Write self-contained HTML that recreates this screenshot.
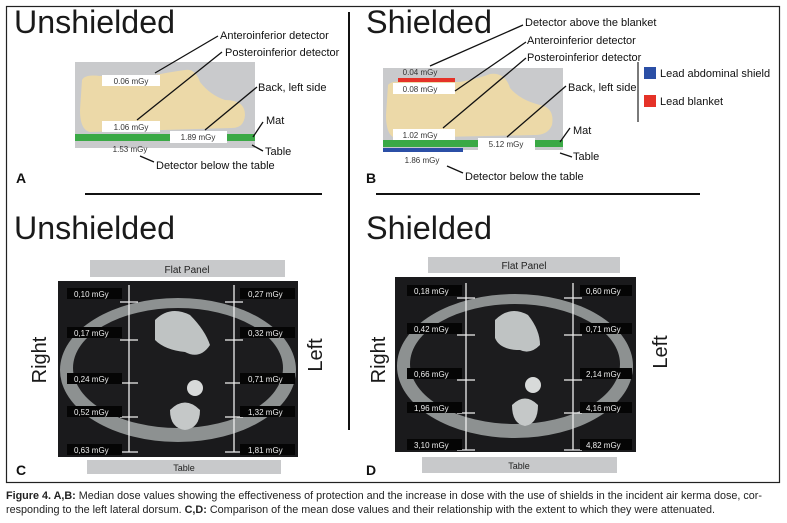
<!DOCTYPE html>
<html><head><meta charset="utf-8"><style>
html,body{margin:0;padding:0;background:#fff;}
svg{display:block;font-family:"Liberation Sans",sans-serif;}
</style></head><body>
<svg width="787" height="523" viewBox="0 0 787 523" xmlns="http://www.w3.org/2000/svg">
<rect x="0" y="0" width="787" height="523" fill="#fff"/>
<rect x="6.5" y="6.5" width="773" height="476" fill="none" stroke="#222" stroke-width="1.2"/>
<line x1="349" y1="12" x2="349" y2="430" stroke="#111" stroke-width="2"/>
<line x1="85" y1="194" x2="322" y2="194" stroke="#111" stroke-width="2"/>
<line x1="376" y1="194" x2="700" y2="194" stroke="#111" stroke-width="2"/>

<!-- Panel A -->
<text x="14" y="33" font-size="32" fill="#1a1a1a" textLength="161" lengthAdjust="spacingAndGlyphs">Unshielded</text>
<rect x="75" y="62" width="180" height="86" fill="#c9cacc"/>
<path d="M82,80 Q85,74 100,76 L150,76 Q170,72 185,70 Q195,68 200,82 Q210,95 225,100 Q245,100 245,115 Q244,128 232,128 L90,132 Q80,130 80,110 Z" fill="#ecd9a8"/>
<rect x="75" y="134" width="180" height="7" fill="#3aa945"/>
<rect x="102" y="75" width="58" height="11" fill="#fff"/>
<text x="131" y="84" font-size="8" fill="#333" text-anchor="middle">0.06 mGy</text>
<rect x="102" y="121" width="58" height="11" fill="#fff"/>
<text x="131" y="130" font-size="8" fill="#333" text-anchor="middle">1.06 mGy</text>
<rect x="170" y="131" width="57" height="12" fill="#fff"/>
<text x="198" y="140" font-size="8" fill="#333" text-anchor="middle">1.89 mGy</text>
<text x="130" y="152" font-size="8" fill="#333" text-anchor="middle">1.53 mGy</text>
<g stroke="#111" stroke-width="1.3">
<line x1="155" y1="73" x2="218" y2="36"/><line x1="137" y1="120" x2="222" y2="52"/>
<line x1="205" y1="130" x2="257" y2="87"/><line x1="253" y1="137" x2="263" y2="122"/>
<line x1="252" y1="145" x2="263" y2="151"/><line x1="140" y1="156" x2="154" y2="162"/>
</g>
<g font-size="11" fill="#111">
<text x="220" y="39">Anteroinferior detector</text>
<text x="225" y="56">Posteroinferior detector</text>
<text x="258" y="91">Back, left side</text>
<text x="266" y="124">Mat</text>
<text x="265" y="155">Table</text>
<text x="156" y="169">Detector below the table</text>
</g>
<text x="16" y="183" font-size="14" font-weight="bold" fill="#111">A</text>

<!-- Panel B -->
<text x="366" y="33" font-size="32" fill="#1a1a1a" textLength="126" lengthAdjust="spacingAndGlyphs">Shielded</text>
<rect x="383" y="68" width="180" height="82" fill="#c9cacc"/>
<path d="M388,85 Q392,80 410,82 L460,82 Q480,78 490,74 Q505,72 510,88 Q520,100 540,105 Q555,108 552,125 Q548,135 535,135 L395,138 Q386,135 386,115 Z" fill="#ecd9a8"/>
<rect x="398" y="78" width="57" height="4" fill="#e53228"/>
<text x="420" y="75" font-size="8" fill="#333" text-anchor="middle">0.04 mGy</text>
<rect x="393" y="83" width="62" height="11" fill="#fff"/>
<text x="420" y="92" font-size="8" fill="#333" text-anchor="middle">0.08 mGy</text>
<rect x="393" y="129" width="62" height="11" fill="#fff"/>
<text x="420" y="138" font-size="8" fill="#333" text-anchor="middle">1.02 mGy</text>
<rect x="383" y="140" width="180" height="7" fill="#3aa945"/>
<rect x="478" y="138" width="57" height="12" fill="#fff"/>
<text x="506" y="147" font-size="8" fill="#333" text-anchor="middle">5.12 mGy</text>
<rect x="383" y="148" width="80" height="4" fill="#2b4fa6"/>
<text x="422" y="163" font-size="8" fill="#333" text-anchor="middle">1.86 mGy</text>
<g stroke="#111" stroke-width="1.3">
<line x1="430" y1="66" x2="523" y2="25"/><line x1="455" y1="91" x2="526" y2="42"/>
<line x1="443" y1="128" x2="526" y2="58"/><line x1="507" y1="137" x2="566" y2="86"/>
<line x1="560" y1="142" x2="570" y2="128"/><line x1="560" y1="153" x2="572" y2="157"/>
<line x1="447" y1="166" x2="463" y2="173"/>
</g>
<g font-size="11" fill="#111">
<text x="525" y="26">Detector above the blanket</text>
<text x="527" y="44">Anteroinferior detector</text>
<text x="527" y="61">Posteroinferior detector</text>
<text x="568" y="91">Back, left side</text>
<text x="573" y="134">Mat</text>
<text x="573" y="160">Table</text>
<text x="465" y="180">Detector below the table</text>
</g>
<line x1="638" y1="62" x2="638" y2="122" stroke="#333" stroke-width="1.3"/>
<rect x="644" y="67" width="12" height="12" fill="#2b4fa6"/>
<text x="660" y="77" font-size="11" fill="#111">Lead abdominal shield</text>
<rect x="644" y="95" width="12" height="12" fill="#e53228"/>
<text x="660" y="105" font-size="11" fill="#111">Lead blanket</text>
<text x="366" y="183" font-size="14" font-weight="bold" fill="#111">B</text>

<!-- Panel C -->
<text x="14" y="239" font-size="32" fill="#1a1a1a" textLength="161" lengthAdjust="spacingAndGlyphs">Unshielded</text>
<rect x="90" y="260" width="195" height="17" fill="#c8c9cb"/>
<text x="187" y="273" font-size="10" fill="#222" text-anchor="middle">Flat Panel</text>
<rect x="58" y="281" width="240" height="176" fill="#1a1a1c"/>
<ellipse cx="178" cy="370" rx="118" ry="72" fill="#8d9191"/>
<ellipse cx="178" cy="368" rx="105" ry="60" fill="#1c1c1e"/>
<path d="M155,320 Q170,305 190,315 Q205,330 210,345 Q200,360 185,352 Q165,350 155,340 Z" fill="#bfc3c3"/>
<circle cx="195" cy="388" r="8" fill="#d8dada"/>
<path d="M170,410 Q185,395 200,410 Q200,428 185,430 Q170,428 170,410 Z" fill="#c5c8c8"/>
<g stroke="#eee" stroke-width="1.3">
<line x1="129" y1="285" x2="129" y2="452"/><line x1="234" y1="285" x2="234" y2="452"/>
<line x1="120" y1="302" x2="138" y2="302"/><line x1="120" y1="340" x2="138" y2="340"/><line x1="120" y1="383" x2="138" y2="383"/><line x1="120" y1="417" x2="138" y2="417"/><line x1="120" y1="452" x2="138" y2="452"/>
<line x1="225" y1="302" x2="243" y2="302"/><line x1="225" y1="340" x2="243" y2="340"/><line x1="225" y1="383" x2="243" y2="383"/><line x1="225" y1="417" x2="243" y2="417"/><line x1="225" y1="452" x2="243" y2="452"/>
</g>
<g font-size="8" fill="#eee">
<rect x="67" y="288" width="55" height="11" fill="#050505"/><text x="74" y="297">0,10 mGy</text>
<rect x="67" y="327" width="55" height="11" fill="#050505"/><text x="74" y="336">0,17 mGy</text>
<rect x="67" y="373" width="55" height="11" fill="#050505"/><text x="74" y="382">0,24 mGy</text>
<rect x="67" y="406" width="55" height="11" fill="#050505"/><text x="74" y="415">0,52 mGy</text>
<rect x="67" y="444" width="55" height="11" fill="#050505"/><text x="74" y="453">0,63 mGy</text>
<rect x="240" y="288" width="55" height="11" fill="#050505"/><text x="248" y="297">0,27 mGy</text>
<rect x="240" y="327" width="55" height="11" fill="#050505"/><text x="248" y="336">0,32 mGy</text>
<rect x="240" y="373" width="55" height="11" fill="#050505"/><text x="248" y="382">0,71 mGy</text>
<rect x="240" y="406" width="55" height="11" fill="#050505"/><text x="248" y="415">1,32 mGy</text>
<rect x="240" y="444" width="55" height="11" fill="#050505"/><text x="248" y="453">1,81 mGy</text>
</g>
<rect x="87" y="460" width="194" height="14" fill="#c8c9cb"/>
<text x="184" y="471" font-size="9" fill="#222" text-anchor="middle">Table</text>
<text transform="translate(46,360) rotate(-90)" font-size="20" fill="#1a1a1a" text-anchor="middle">Right</text>
<text transform="translate(322,355) rotate(-90)" font-size="20" fill="#1a1a1a" text-anchor="middle">Left</text>
<text x="16" y="475" font-size="14" font-weight="bold" fill="#111">C</text>

<!-- Panel D -->
<text x="366" y="239" font-size="32" fill="#1a1a1a" textLength="126" lengthAdjust="spacingAndGlyphs">Shielded</text>
<rect x="428" y="257" width="192" height="16" fill="#c8c9cb"/>
<text x="524" y="269" font-size="10" fill="#222" text-anchor="middle">Flat Panel</text>
<rect x="395" y="277" width="241" height="175" fill="#1a1a1c"/>
<ellipse cx="515" cy="366" rx="118" ry="72" fill="#8d9191"/>
<ellipse cx="515" cy="364" rx="105" ry="60" fill="#1c1c1e"/>
<path d="M495,320 Q510,305 528,315 Q540,330 540,345 Q530,355 520,350 Q500,350 495,338 Z" fill="#bfc3c3"/>
<circle cx="533" cy="385" r="8" fill="#d8dada"/>
<path d="M512,405 Q525,392 538,405 Q538,424 525,426 Q512,424 512,405 Z" fill="#c5c8c8"/>
<g stroke="#eee" stroke-width="1.3">
<line x1="466" y1="283" x2="466" y2="450"/><line x1="573" y1="283" x2="573" y2="450"/>
<line x1="457" y1="298" x2="475" y2="298"/><line x1="457" y1="335" x2="475" y2="335"/><line x1="457" y1="380" x2="475" y2="380"/><line x1="457" y1="413" x2="475" y2="413"/><line x1="457" y1="450" x2="475" y2="450"/>
<line x1="564" y1="298" x2="582" y2="298"/><line x1="564" y1="335" x2="582" y2="335"/><line x1="564" y1="380" x2="582" y2="380"/><line x1="564" y1="413" x2="582" y2="413"/><line x1="564" y1="450" x2="582" y2="450"/>
</g>
<g font-size="8" fill="#eee">
<rect x="407" y="285" width="55" height="11" fill="#050505"/><text x="414" y="294">0,18 mGy</text>
<rect x="407" y="323" width="55" height="11" fill="#050505"/><text x="414" y="332">0,42 mGy</text>
<rect x="407" y="368" width="55" height="11" fill="#050505"/><text x="414" y="377">0,66 mGy</text>
<rect x="407" y="402" width="55" height="11" fill="#050505"/><text x="414" y="411">1,96 mGy</text>
<rect x="407" y="439" width="55" height="11" fill="#050505"/><text x="414" y="448">3,10 mGy</text>
<rect x="580" y="285" width="52" height="11" fill="#050505"/><text x="586" y="294">0,60 mGy</text>
<rect x="580" y="323" width="52" height="11" fill="#050505"/><text x="586" y="332">0,71 mGy</text>
<rect x="580" y="368" width="52" height="11" fill="#050505"/><text x="586" y="377">2,14 mGy</text>
<rect x="580" y="402" width="52" height="11" fill="#050505"/><text x="586" y="411">4,16 mGy</text>
<rect x="580" y="439" width="52" height="11" fill="#050505"/><text x="586" y="448">4,82 mGy</text>
</g>
<rect x="422" y="457" width="195" height="16" fill="#c8c9cb"/>
<text x="519" y="469" font-size="9" fill="#222" text-anchor="middle">Table</text>
<text transform="translate(385,360) rotate(-90)" font-size="20" fill="#1a1a1a" text-anchor="middle">Right</text>
<text transform="translate(667,352) rotate(-90)" font-size="20" fill="#1a1a1a" text-anchor="middle">Left</text>
<text x="366" y="475" font-size="14" font-weight="bold" fill="#111">D</text>

<!-- caption -->
<text x="6" y="499" font-size="10.8" fill="#222" textLength="756" lengthAdjust="spacingAndGlyphs"><tspan font-weight="bold">Figure 4. A,B:</tspan> Median dose values showing the effectiveness of protection and the increase in dose with the use of shields in the incident air kerma dose, cor-</text>
<text x="6" y="513" font-size="10.8" fill="#222" textLength="709" lengthAdjust="spacingAndGlyphs">responding to the left lateral dorsum. <tspan font-weight="bold">C,D:</tspan> Comparison of the mean dose values and their relationship with the extent to which they were attenuated.</text>
</svg>
</body></html>
